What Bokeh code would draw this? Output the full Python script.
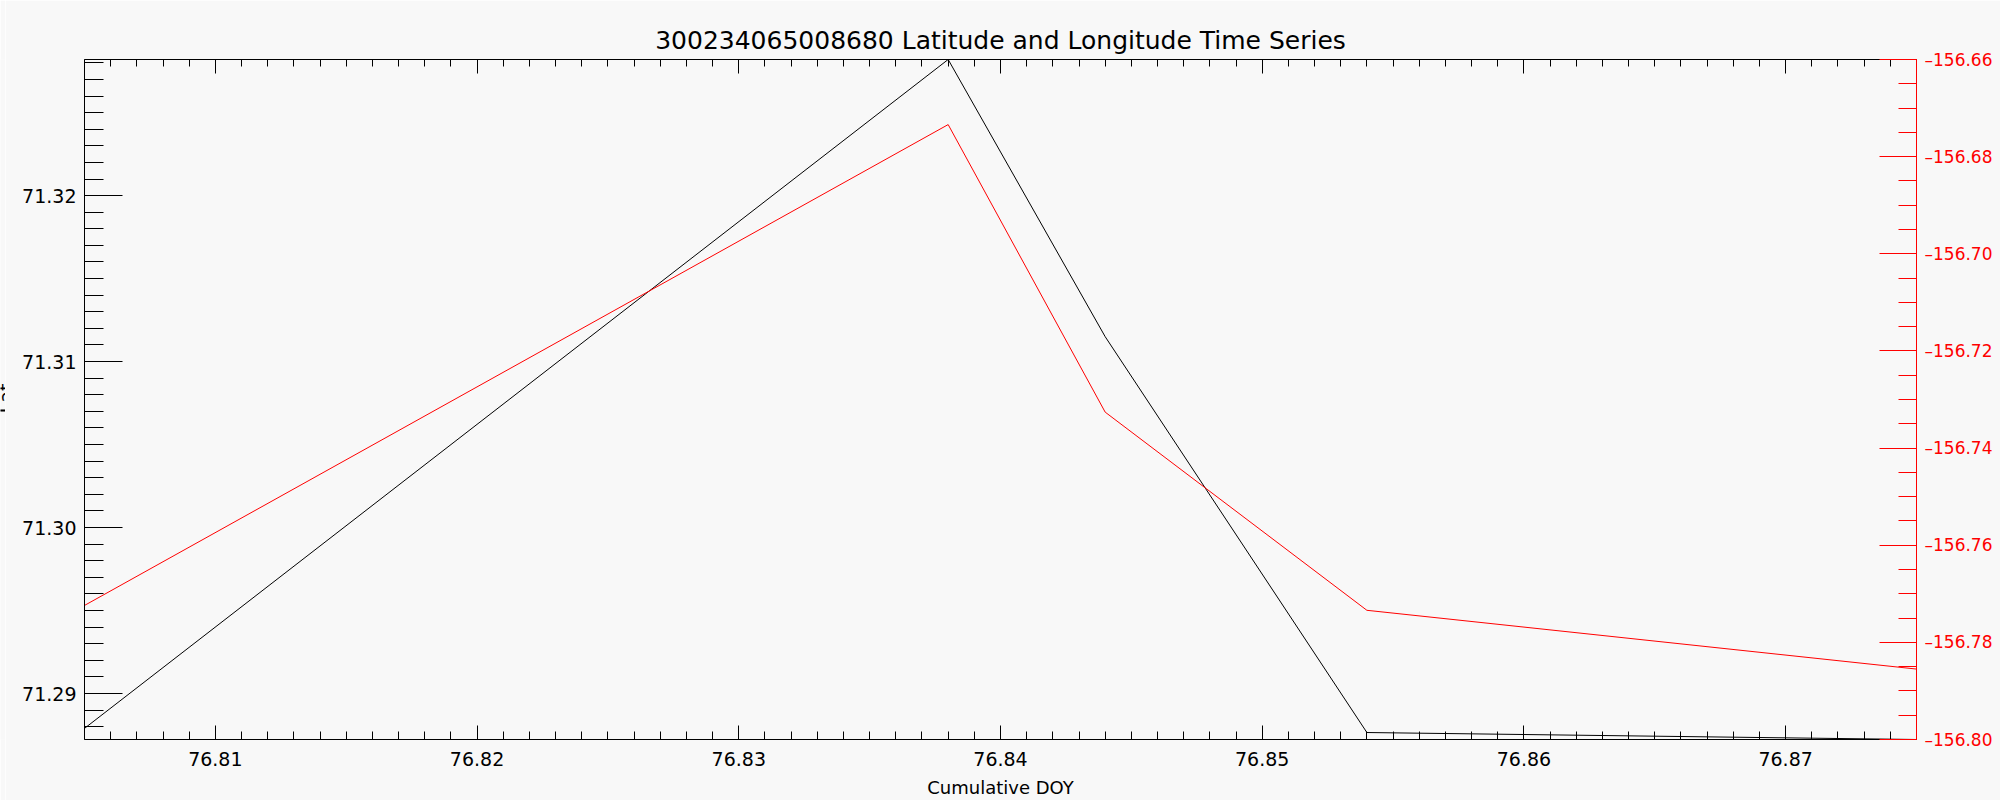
from math import pi
from bokeh.plotting import figure
from bokeh.layouts import row
from bokeh.models import (Range1d, LinearAxis, SingleIntervalTicker, NumeralTickFormatter,
                          CustomJSTickFormatter, Label)
from bokeh.embed import file_html
from bokeh.resources import INLINE

# ---- data ----
doy = [76.805, 76.838, 76.844, 76.854, 76.875]
lat = [71.2879, 71.3282, 71.3115, 71.28765, 71.28723]
lon = [-156.7724, -156.6734, -156.7326, -156.7734, -156.7855]
lon_axis_range = [-156.80, -156.66]

title_text = "300234065008680 Latitude and Longitude Time Series"
x_label = "Cumulative DOY"
y_label = "Lat"

BG = "#f8f8f8"
FONT = "DejaVu Sans"

# narrow strip at the very left edge: only a sliver of the "Lat" title shows, as in the reference
strip_w = 5
strip = figure(width=strip_w, height=800, x_range=Range1d(0, 1), y_range=Range1d(0, 1),
               output_backend="svg", toolbar_location=None,
               x_axis_location=None, y_axis_location=None, min_border=0,
               background_fill_color=BG, border_fill_color=BG, outline_line_color=None)
for g in strip.grid:
    g.visible = False
strip.add_layout(Label(x=strip_w, y=341, x_units="screen", y_units="screen", text=y_label,
                       angle=pi / 2, text_align="center", text_baseline="alphabetic",
                       text_font=FONT, text_font_size="19px", text_color="black"))

W, H = 2000 - strip_w, 800
p = figure(width=W, height=H,
           x_range=Range1d(min(doy), max(doy)),
           y_range=Range1d(min(lat), max(lat)),
           output_backend="svg", toolbar_location=None,
           x_axis_location=None, y_axis_location=None,
           min_border_left=84 - strip_w, min_border_right=84, min_border_top=59, min_border_bottom=61,
           background_fill_color=BG, border_fill_color=BG, outline_line_color=None)
for g in p.grid:
    g.visible = False
p.extra_y_ranges = {"lon": Range1d(lon_axis_range[0], lon_axis_range[1])}

p.title.text = title_text
p.title.align = "center"
p.title.text_font = FONT
p.title.text_font_size = "25px"
p.title.text_font_style = "normal"
p.title.text_color = "black"
p.title.standoff = 10

blank = "return '';"


def style(ax, color, maj_in, min_in, size="19px", standoff=8):
    ax.axis_line_color = color
    ax.axis_line_width = 1
    ax.major_tick_line_color = color
    ax.minor_tick_line_color = color
    ax.major_tick_in = maj_in
    ax.major_tick_out = 0
    ax.minor_tick_in = min_in
    ax.minor_tick_out = 0
    ax.major_label_text_color = color
    ax.major_label_text_font = FONT
    ax.major_label_text_font_size = size
    ax.major_label_standoff = standoff


left = LinearAxis(ticker=SingleIntervalTicker(interval=0.01, num_minor_ticks=10),
                  formatter=NumeralTickFormatter(format="0.00"))
style(left, "black", 38, 19)
p.add_layout(left, "left")

right = LinearAxis(y_range_name="lon",
                   ticker=SingleIntervalTicker(interval=0.02, num_minor_ticks=4),
                   formatter=CustomJSTickFormatter(code="return '\u2013' + Math.abs(tick).toFixed(2);"))
style(right, "red", 37, 18, size="17px", standoff=8)
p.add_layout(right, "right")

bottom = LinearAxis(ticker=SingleIntervalTicker(interval=0.01, num_minor_ticks=10),
                    formatter=NumeralTickFormatter(format="0.00"),
                    axis_label=x_label)
style(bottom, "black", 14, 8, standoff=12)
bottom.axis_label_text_font = FONT
bottom.axis_label_text_font_size = "18px"
bottom.axis_label_text_font_style = "normal"
bottom.axis_label_text_color = "black"
bottom.axis_label_standoff = 8
p.add_layout(bottom, "below")

top = LinearAxis(ticker=SingleIntervalTicker(interval=0.01, num_minor_ticks=10),
                 formatter=CustomJSTickFormatter(code=blank))
style(top, "black", 14, 7, standoff=0)
p.add_layout(top, "above")

p.line(doy, lat, line_color="black", line_width=1)
p.line(doy, lon, line_color="red", line_width=1, y_range_name="lon")

layout = row(strip, p)
open("out.html", "w").write(file_html(layout, INLINE))
